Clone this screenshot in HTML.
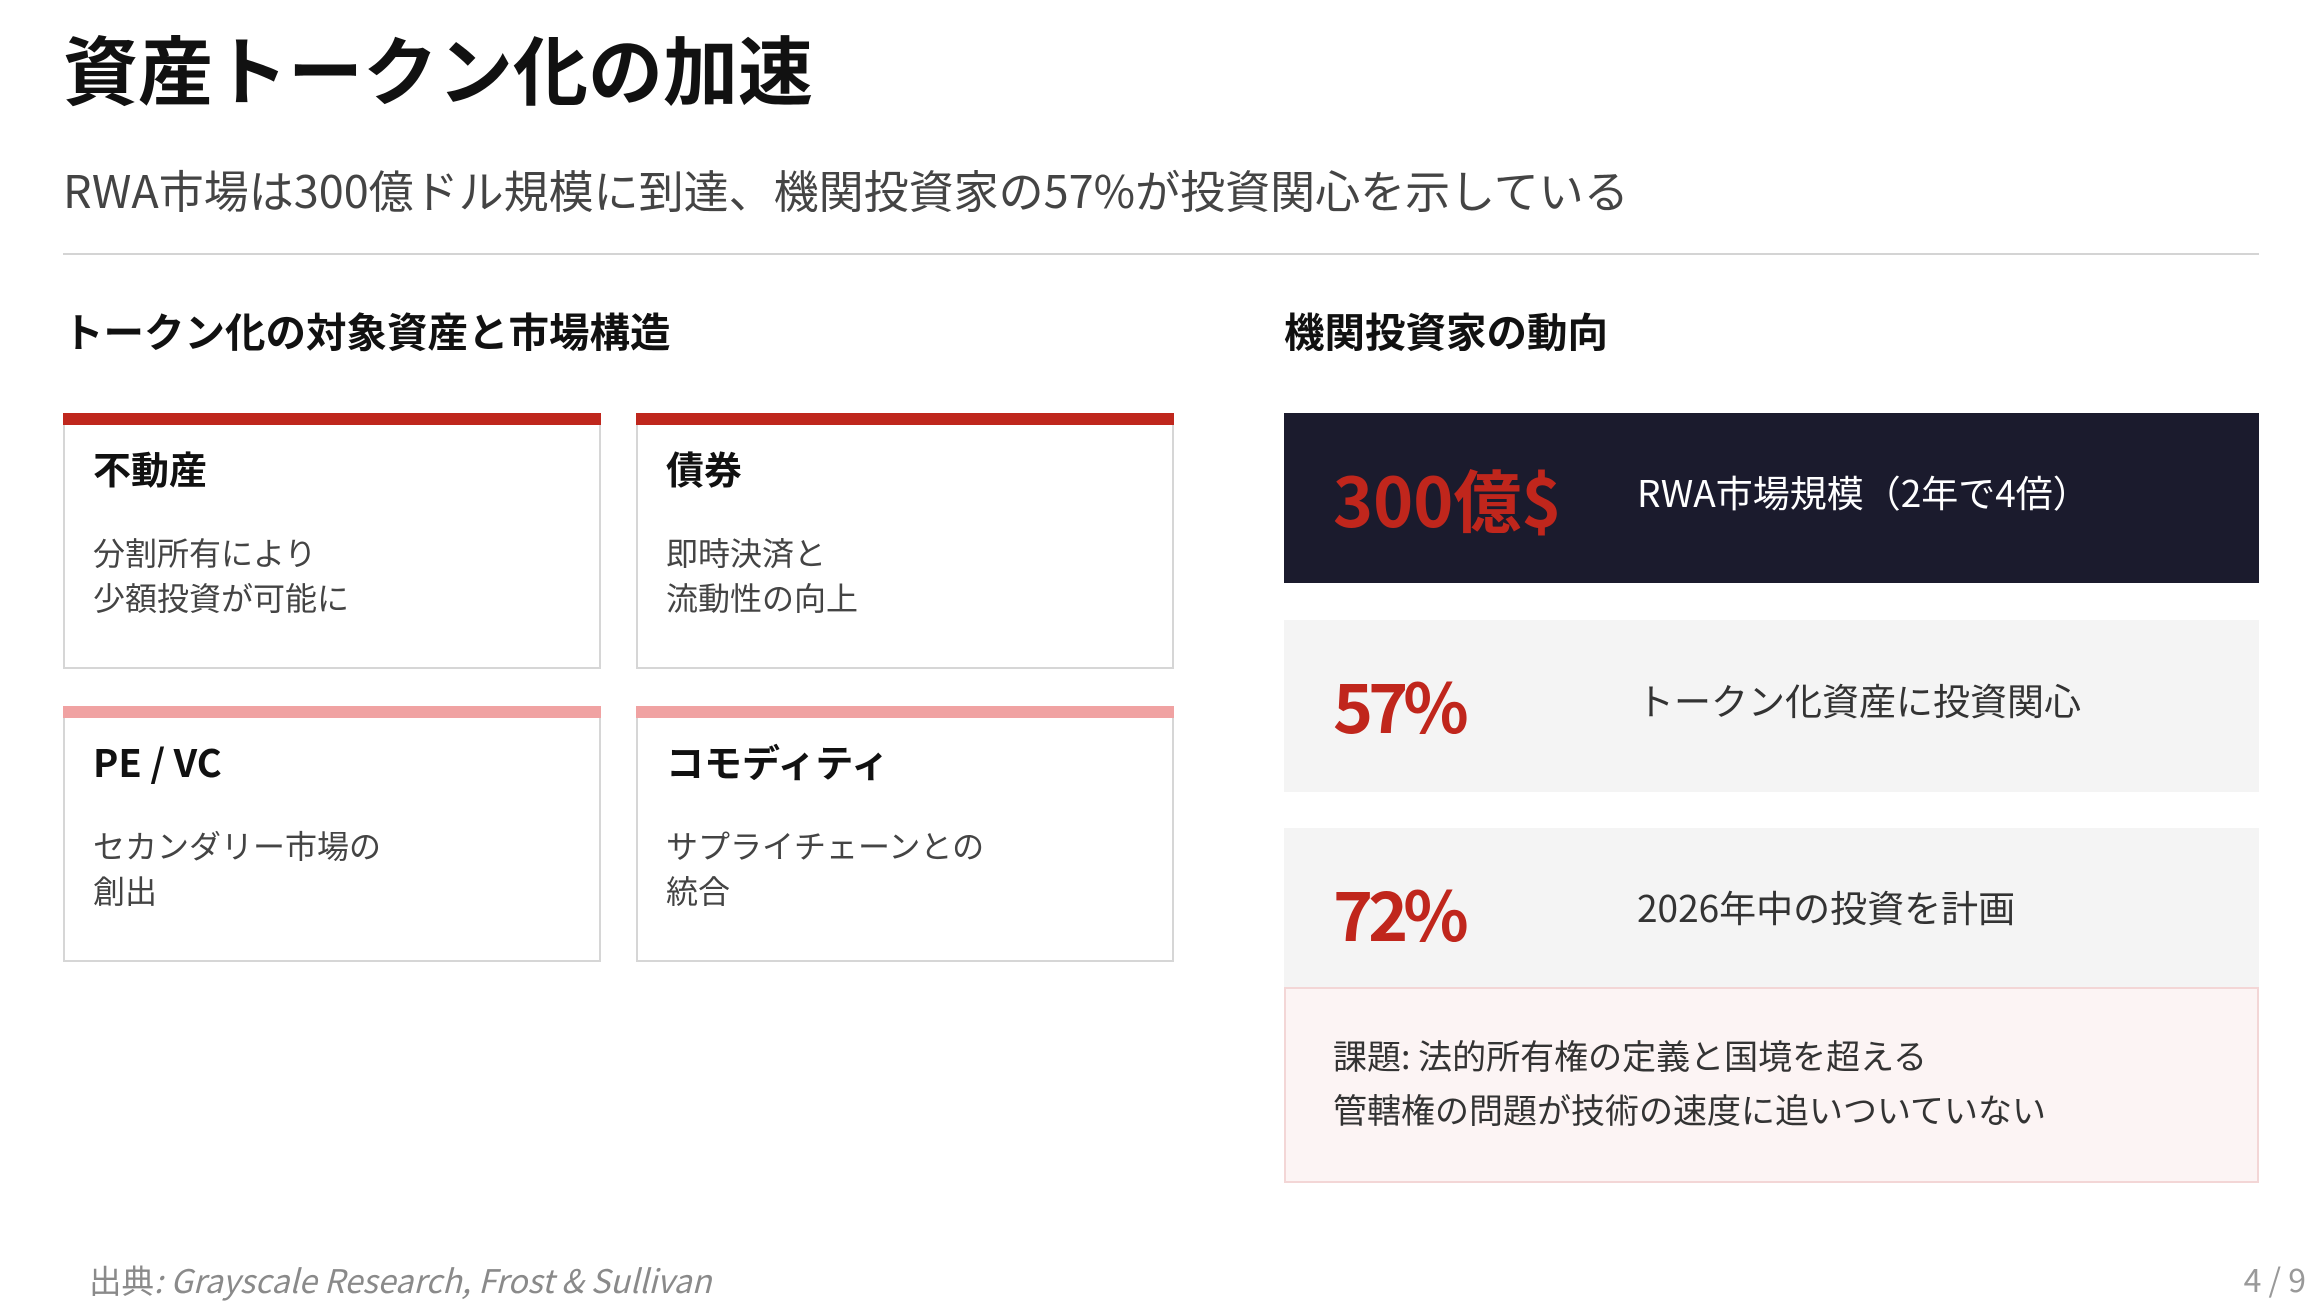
<!DOCTYPE html>
<html><head><meta charset="utf-8"><style>
*{margin:0;padding:0;box-sizing:border-box}
body{width:2314px;height:1310px;background:#fff;position:relative;overflow:hidden;font-family:"Noto Sans CJK JP","Liberation Sans",sans-serif;color:#222;line-height:1.2}
.a{position:absolute;white-space:nowrap}
.card{position:absolute;border:2px solid #d6d6d6;background:#fff;width:538px;height:256px}
.card .bar{position:absolute;left:-2px;right:-2px;top:-2px;height:12px;background:#bf271d}
.card.p .bar{background:#f0a2a2}
.card h3{position:absolute;left:28px;top:30px;font-size:38px;font-weight:bold;color:#111}
.card p{position:absolute;left:28px;top:115px;font-size:32px;line-height:45px;color:#444}
.box{position:absolute;left:1284px;width:975px}
.num{position:absolute;left:49px;font-size:68px;font-weight:bold;color:#c0261c}
.pc{letter-spacing:-5px}
.lbl{position:absolute;left:353px;font-size:37px;color:#333}
</style></head><body>
<div class="a" style="left:63px;top:22px;font-size:75px;font-weight:bold;color:#111">資産トークン化の加速</div>
<div class="a" style="left:63px;top:162px;font-size:45px;color:#444">RWA市場は300億ドル規模に到達、機関投資家の57%が投資関心を示している</div>
<div class="a" style="left:63px;top:253px;width:2196px;height:2px;background:#d4d4d4"></div>
<div class="a" style="left:63px;top:306px;font-size:40.5px;font-weight:bold;color:#111">トークン化の対象資産と市場構造</div>
<div class="a" style="left:1284px;top:306px;font-size:40.5px;font-weight:bold;color:#111">機関投資家の動向</div>

<div class="card" style="left:63px;top:413px"><div class="bar"></div><h3>不動産</h3><p>分割所有により<br>少額投資が可能に</p></div>
<div class="card" style="left:636px;top:413px"><div class="bar"></div><h3>債券</h3><p>即時決済と<br>流動性の向上</p></div>
<div class="card p" style="left:63px;top:706px"><div class="bar"></div><h3>PE / VC</h3><p>セカンダリー市場の<br>創出</p></div>
<div class="card p" style="left:636px;top:706px"><div class="bar"></div><h3>コモディティ</h3><p>サプライチェーンとの<br>統合</p></div>

<div class="box" style="top:413px;height:170px;background:#1b1b2d">
<div class="num" style="top:44px">300億$</div>
<div class="lbl" style="top:56px;color:#fff">RWA市場規模（2年で4倍）</div></div>
<div class="box" style="top:620px;height:172px;background:#f4f4f4">
<div class="num pc" style="top:43px">57%</div>
<div class="lbl" style="top:57px">トークン化資産に投資関心</div></div>
<div class="box" style="top:828px;height:160px;background:#f4f4f4">
<div class="num pc" style="top:43px">72%</div>
<div class="lbl" style="top:56px">2026年中の投資を計画</div></div>
<div class="box" style="top:987px;height:196px;background:#fcf4f4;border:2px solid #f3d6d6">
<div class="a" style="left:47px;top:39px;font-size:34px;line-height:54px;color:#333">課題: 法的所有権の定義と国境を超える<br>管轄権の問題が技術の速度に追いついていない</div></div>

<div class="a" style="left:89px;top:1260px;font-size:32.5px;color:#8a8a8a">出典<i>: Grayscale Research, Frost &amp; Sullivan</i></div>
<div class="a" style="right:8px;top:1260px;font-size:32px;color:#999">4 / 9</div>
</body></html>
